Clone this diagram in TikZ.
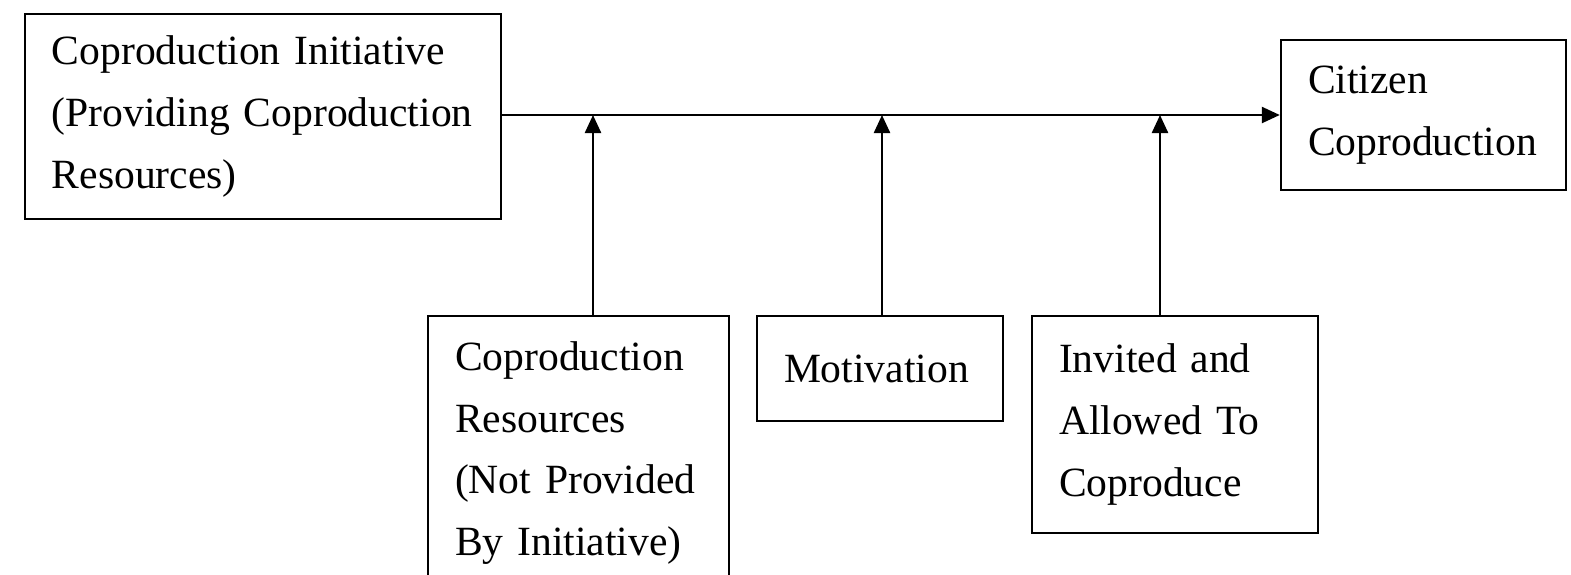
\documentclass[tikz,border=0pt]{standalone}
\usepackage{fontspec}
\setmainfont{Liberation Serif}
\usetikzlibrary{arrows.meta}
\begin{document}
\begin{tikzpicture}[x=0.5pt,y=-0.5pt,>={Triangle[length=9pt,width=8pt]},line width=1.2pt]
  \tikzstyle{box}=[draw, align=left, inner xsep=13.5pt, inner ysep=2pt,
    font=\fontsize{20.8}{30.8}\selectfont]

  \useasboundingbox (0,0) rectangle (1571,574);

  \node[box, text width=211pt, minimum height=102.5pt] (init) at (263,116.5)
    {Coproduction Initiative\\(Providing Coproduction\\Resources)};
  \node[box, text width=115.5pt, minimum height=75pt] (citizen) at (1423.5,115)
    {Citizen\\Coproduction};
  \node[box, text width=123.5pt, minimum height=137pt] (res) at (578.5,453)
    {Coproduction\\Resources\\(Not Provided\\By Initiative)};
  \node[box, text width=96pt, minimum height=52.5pt] (motiv) at (880,368.5)
    {Motivation};
  \node[box, text width=116pt, minimum height=108.5pt] (invited) at (1175,424.5)
    {Invited and\\Allowed To\\Coproduce};

  \coordinate (j1) at (593,115);
  \coordinate (j2) at (882,115);
  \coordinate (j3) at (1160,115);

  \draw[->] (init.east |- citizen.west) -- (citizen.west);
  \draw[->] (j1 |- res.north) -- (j1);
  \draw[->] (j2 |- motiv.north) -- (j2);
  \draw[->] (j3 |- invited.north) -- (j3);
\end{tikzpicture}
\end{document}
